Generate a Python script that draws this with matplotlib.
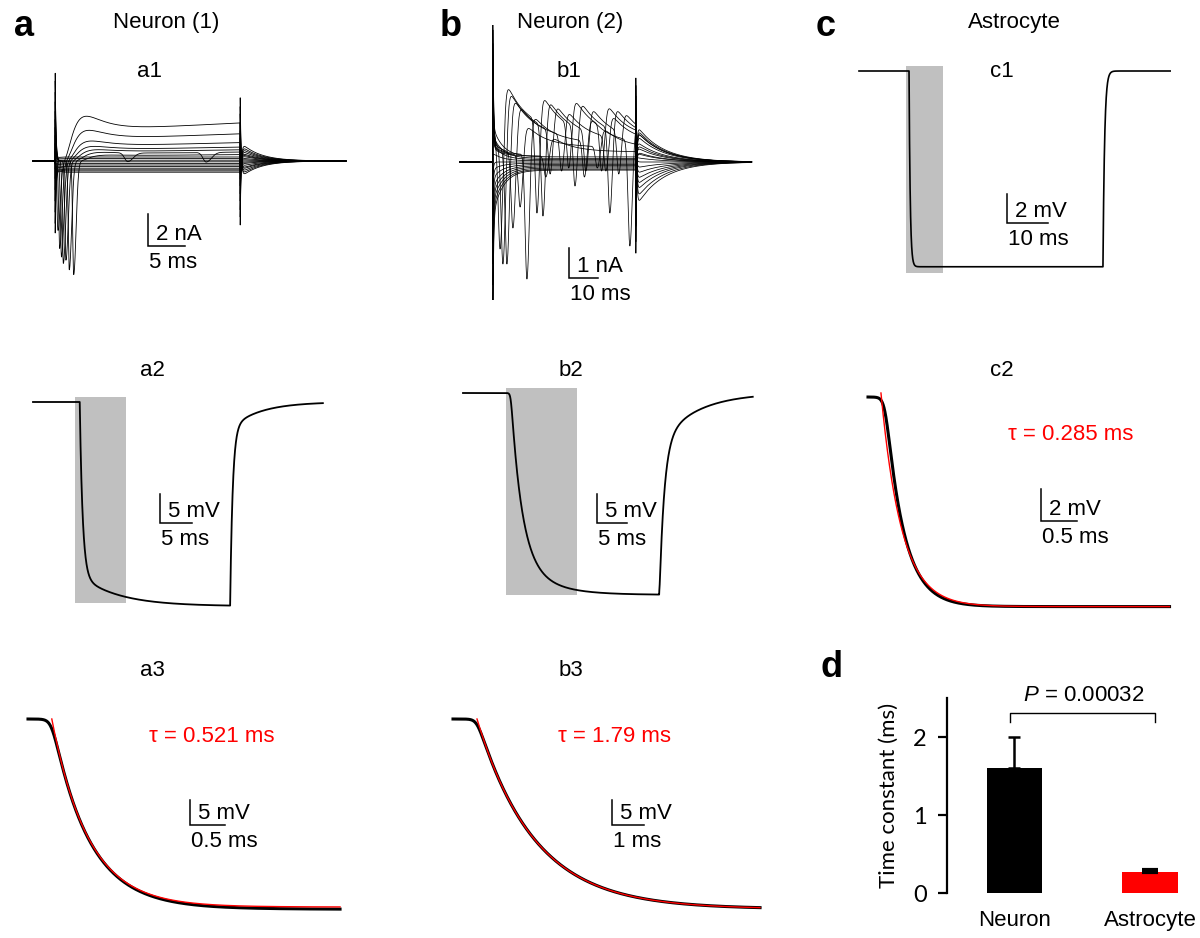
import numpy as np
import matplotlib
matplotlib.use("Agg")
import matplotlib.pyplot as plt
from matplotlib.patches import Rectangle

W, H = 1200, 938
plt.rcParams['font.family'] = ['Liberation Sans', 'DejaVu Sans']
plt.rcParams['mathtext.fontset'] = 'custom'
plt.rcParams['mathtext.it'] = 'Liberation Sans:italic'
plt.rcParams['mathtext.rm'] = 'Liberation Sans'

# ============================ DATA ============================
# --- a1: Neuron (1) voltage-clamp current family (nA, ms)
a1_on_ms, a1_off_ms, a1_end_ms = 3.0, 28.0, 42.3
a1_steady_nA = [2.38, 1.70, 1.15, 0.87, 0.70, 0.56, 0.40,
                0.25, 0.15, 0.05, -0.05, -0.15, -0.25, -0.35, -0.45, -0.55, -0.62, -0.70]
a1_na_delay_ms = [0.35, 0.6, 0.85, 1.1, 1.45, 1.9, 2.5]
a1_na_peak_nA = [-4.6, -5.5, -6.0, -6.4, -6.2, -6.8, -7.1]
a1_on_transient_nA = [5.7, 5.0, 4.3, 3.7, 3.1, 2.6, 2.1, 1.6, 1.1, 0.6, 0.1,
                      -0.5, -1.1, -1.8, -2.5, -3.2, -3.9, -4.5]
a1_off_transient_nA = [-5.2, -4.5, -3.9, -3.2, -2.6, -2.0, -1.5, -1.0, -0.5, 0.0,
                       0.5, 1.1, 1.8, 2.4, 3.0, 3.7, 4.3, 5.0]
a1_tail_nA = [1.2, 1.0, 0.85, 0.7, 0.55, 0.45, 0.35, 0.2, 0.1, 0.0,
              -0.1, -0.2, -0.35, -0.5, -0.6, -0.75, -0.9, -1.05]
a1_late_event_ms = [12.8, 23.4]
a1_late_event_nA = [-0.55, -0.6]

# --- b1: Neuron (2) voltage-clamp current family
b1_on_ms, b1_off_ms, b1_end_ms = 11.5, 61.5, 102.0
b1_spike_ms = [[14.0, 26.9, 38.0, 49.5], [15.0, 29.0, 40.2, 52.4], [16.4, 31.5, 44.0, 55.5],
               [18.5, 35.5, 51.0], [23.4, 43.5, 59.4], [21.0, 48.0], [30.0]]
b1_spike_min_nA = [[-2.9, -1.7, -0.2, -0.3], [-3.4, -1.8, -0.8, -1.7], [-3.4, -0.4, -0.3, -0.4],
                   [-2.2, -0.3, -0.3], [-3.9, -0.5, -2.8], [-1.5, -0.2], [-0.5]]
b1_k_peak_nA = [[2.63, 2.25, 2.15, 1.95], [2.4, 2.1, 2.05, 1.85], [2.17, 1.95, 1.85, 1.7],
                [1.95, 1.75, 1.6], [1.6, 1.5, 1.35], [1.25, 1.15], [0.85]]
b1_pre_spike_nA = [0.35, 0.32, 0.30, 0.28, 0.25, 0.22, 0.20]
b1_steady_nA = [0.17, 0.12, 0.08, 0.04, 0.0, -0.04, -0.08, -0.12, -0.16, -0.20, -0.24, -0.27]
b1_on_transient_nA = [4.3, 4.0, 3.6, 3.2, 2.8, 2.4, 2.0,
                      1.5, 1.0, 0.5, 0.0, -0.5, -1.0, -1.5, -2.0, -2.5, -3.0, -3.5, -4.1]
b1_on_fan_nA = [0.4, 0.4, 0.35, 0.35, 0.3, 0.3, 0.25,
                1.0, 0.75, 0.5, 0.25, 0.0, -0.2, -0.45, -0.7, -0.9, -1.1, -1.3, -1.5]
b1_off_transient_nA = [-4.1, -3.8, -3.4, -3.0, -2.6, -2.2, -1.8,
                       -1.4, -1.0, -0.5, 0.0, 0.5, 1.0, 1.5, 2.0, 2.6, 3.2, 3.8, 4.3]
b1_off_tail_nA = [0.7, 0.5, 0.3, 0.15, 0.0, -0.2, -0.4, -0.6, -0.8, -1.0, -1.25, -1.5]

# --- c1: Astrocyte voltage response (mV)
c1_on_ms, c1_off_ms, c1_end_ms = 12.2, 59.5, 75.9
c1_drop_mV = 13.5
c1_tau_ms, c1_tau_rec_ms = 0.285, 0.4
c1_shade_ms = [11.5, 20.5]
c1_shade_mV = [0.34, -13.9]

# --- a2 / b2: neuron voltage responses (mV)
a2_on_ms, a2_off_ms, a2_end_ms = 7.3, 30.8, 45.3
a2_drop_mV = 35.2
a2_shade_ms = [6.56, 14.5]
a2_shade_mV = [0.86, -34.7]
b2_on_ms, b2_off_ms, b2_end_ms = 7.67, 32.7, 48.3
b2_drop_mV = 34.8
b2_shade_ms = [7.17, 19.0]
b2_shade_mV = [0.86, -34.8]

# --- a3 / b3 / c2: decay phase with single-exponential fits
a3_on_ms, a3_end_ms, a3_drop_mV, a3_tau_ms = 0.34, 4.46, 37.6, 0.521
b3_on_ms, b3_end_ms, b3_drop_mV, b3_tau_ms = 0.75, 9.6, 38.0, 1.79
c2_on_ms, c2_end_ms, c2_drop_mV, c2_tau_ms = 0.18, 4.19, 13.1, 0.285

# --- d: summary bar chart
d_groups = ['Neuron', 'Astrocyte']
d_means = [1.60, 0.27]
d_sem = [0.40, 0.02]
d_colors = ['black', '#ff0000']
d_pvalue = '0.00032'

# ============================ HELPERS ============================
fig = plt.figure(figsize=(W / 100, H / 100), dpi=100)


def ftext(x, y, s, **kw):
    kw.setdefault('fontsize', 16)
    kw.setdefault('ha', 'center')
    kw.setdefault('va', 'baseline')
    fig.text(x / W, 1 - y / H, s, **kw)


def px_axes(box, m):
    L, T, R, B = box
    x0, sx, y0, sy = m
    ax = fig.add_axes([L / W, 1 - B / H, (R - L) / W, (B - T) / H])
    ax.set_xlim((L - x0) / sx, (R - x0) / sx)
    ax.set_ylim((y0 - B) / sy, (y0 - T) / sy)
    ax.axis('off')
    return ax


def scalebar(ax, m, corner, vlen, hlen, vlab, hlab):
    x0, sx, y0, sy = m
    cx = (corner[0] - x0) / sx
    cy = (y0 - corner[1]) / sy
    ax.plot([cx, cx, cx + hlen], [cy + vlen, cy, cy], color='black', lw=1.1,
            solid_joinstyle='miter', clip_on=False)
    ftext(corner[0] + 8, corner[1] - 6, vlab, ha='left')
    ftext(corner[0] + 1, corner[1] + 22, hlab, ha='left')


def decay(t, t0, tau):
    dt = np.clip(t - t0, 0, None)
    return np.where(t >= t0, np.exp(-dt / tau), 0.0)


def rise(t, t0, tau):
    dt = np.clip(t - t0, 0, None)
    return 1 - np.exp(-dt / tau)


def bump(t, tc, w1, w2):
    dt = t - tc
    return np.where(dt < 0, np.exp(-(dt / w1) ** 2), np.exp(-(dt / w2) ** 2))


def soft(dt, w):
    return w * np.logaddexp(0, dt / w)


GRAY = '#c0c0c0'
RED = '#ff0000'

# ============================ PANEL LABELS / TITLES ============================
for lab, x in [('a', 14), ('b', 440), ('c', 816)]:
    ftext(x, 36, lab, fontsize=26, fontweight='bold', ha='left')
ftext(820, 677, 'd', fontsize=26, fontweight='bold', ha='left')
ftext(166, 28, 'Neuron (1)')
ftext(570, 28, 'Neuron (2)')
ftext(1014, 28, 'Astrocyte')
for s, x, y in [('a1', 150, 77), ('b1', 569, 77), ('c1', 1002, 77),
                ('a2', 152, 376), ('b2', 571, 376), ('c2', 1002, 376),
                ('a3', 152, 676), ('b3', 571, 676)]:
    ftext(x, y, s)

# ============================ a1 ============================
m = (33, 7.4, 161, 16.0)
ax = px_axes((20, 40, 360, 300), m)
t = np.arange(0, a1_end_ms, 0.01)
in_step = (t >= a1_on_ms) & (t < a1_off_ms)
dt_on = np.clip(t - a1_on_ms, 0, None)
n_dep = len(a1_na_delay_ms)
for i, L in enumerate(a1_steady_nA):
    I = a1_on_transient_nA[i] * decay(t, a1_on_ms, 0.12)
    if i < n_dep:
        d = a1_na_delay_ms[i]
        act = rise(t, a1_on_ms + d + 0.6, 1.2) ** 3
        shape = 0.752 + 0.0099 * dt_on + 3.5 * np.exp(-dt_on / 2.5)
        step_part = L * act * shape * in_step
        g = bump(t, a1_on_ms + d, 0.2, 0.45)
        step_part = step_part * (1 - g) + a1_na_peak_nA[i] * g
        I = I + step_part
        if i == 5:
            for te, ae in zip(a1_late_event_ms, a1_late_event_nA):
                I = I + ae * bump(t, te, 0.6, 1.0)
    else:
        I = I + L * in_step * rise(t, a1_on_ms, 0.3)
    I = I + a1_off_transient_nA[i] * decay(t, a1_off_ms, 0.12) + a1_tail_nA[i] * decay(t, a1_off_ms, 2.5)
    ax.plot(t, I, color='black', lw=0.6)
scalebar(ax, m, (148, 246), 2, 5, '2 nA', '5 ms')

# ============================ b1 ============================
m = (460, 2.86, 162, 30.0)
ax = px_axes((450, 25, 770, 300), m)
t = np.arange(0, b1_end_ms, 0.02)
in_step = (t >= b1_on_ms) & (t < b1_off_ms)
i_off = np.searchsorted(t, b1_off_ms) - 1
n_sp = len(b1_spike_ms)
for i in range(len(b1_on_transient_nA)):
    I_step = b1_on_fan_nA[i] * decay(t, b1_on_ms, 3.5)
    if i < n_sp:
        env = b1_pre_spike_nA[i] * rise(t, b1_on_ms, 0.3)
        for ts, pk in zip(b1_spike_ms[i], b1_k_peak_nA[i]):
            r = 1 / (1 + np.exp(-(t - ts - 1.6) / 0.45))
            post = pk * (0.4 + 0.6 * np.exp(-np.clip(t - ts - 2.0, 0, None) / 7.0))
            env = env * (1 - r) + post * r
        I_step = I_step + env
        for ts, mn in zip(b1_spike_ms[i], b1_spike_min_nA[i]):
            g = bump(t, ts, 0.9, 1.1)
            I_step = I_step * (1 - g) + mn * g
        tail = I_step[i_off]
    else:
        I_step = I_step + b1_steady_nA[i - n_sp] * rise(t, b1_on_ms, 0.3)
        tail = b1_off_tail_nA[i - n_sp]
    I = I_step * in_step + tail * decay(t, b1_off_ms, 9.0)
    I = I + b1_on_transient_nA[i] * decay(t, b1_on_ms, 0.25) + b1_off_transient_nA[i] * decay(t, b1_off_ms, 0.25)
    ax.plot(t, I, color='black', lw=0.55)
scalebar(ax, m, (569, 278), 1, 10, '1 nA', '10 ms')

# ============================ c1 ============================
m = (859, 4.1, 71, 14.5)
ax = px_axes((840, 50, 1195, 300), m)
ax.add_patch(Rectangle((c1_shade_ms[0], c1_shade_mV[1]), c1_shade_ms[1] - c1_shade_ms[0],
                       c1_shade_mV[0] - c1_shade_mV[1], color=GRAY, lw=0, zorder=0))
t = np.arange(0, c1_end_ms, 0.01)
v_step = -c1_drop_mV * rise(t, c1_on_ms, c1_tau_ms)
v_off = -c1_drop_mV * (1 - np.exp(-(c1_off_ms - c1_on_ms) / c1_tau_ms))
V = np.where(t < c1_off_ms, v_step, v_off * decay(t, c1_off_ms, c1_tau_rec_ms))
ax.plot(t, V, color='black', lw=1.2)
scalebar(ax, m, (1007, 223), 2, 10, '2 mV', '10 ms')

# ============================ a2 ============================
m = (33, 6.4, 402, 5.8)
ax = px_axes((20, 340, 360, 625), m)
ax.add_patch(Rectangle((a2_shade_ms[0], a2_shade_mV[1]), a2_shade_ms[1] - a2_shade_ms[0],
                       a2_shade_mV[0] - a2_shade_mV[1], color=GRAY, lw=0, zorder=0))
t = np.arange(0, a2_end_ms, 0.01)
down = a2_drop_mV * (0.85 * rise(t, a2_on_ms, 0.45) + 0.15 * rise(t, a2_on_ms, 6.0))
d_off = down[np.searchsorted(t, a2_off_ms) - 1]
rec = d_off * (0.87 * decay(t, a2_off_ms, 0.4) + 0.13 * decay(t, a2_off_ms, 4.6))
V = np.where(t < a2_off_ms, -down, -rec)
ax.plot(t, V, color='black', lw=1.3)
scalebar(ax, m, (160, 523), 5, 5, '5 mV', '5 ms')

# ============================ b2 ============================
m = (463, 6.0, 393, 5.8)
ax = px_axes((450, 340, 770, 625), m)
ax.add_patch(Rectangle((b2_shade_ms[0], b2_shade_mV[1]), b2_shade_ms[1] - b2_shade_ms[0],
                       b2_shade_mV[0] - b2_shade_mV[1], color=GRAY, lw=0, zorder=0))
t = np.arange(0, b2_end_ms, 0.01)
te = soft(t - b2_on_ms - 0.3, 0.12)
down = b2_drop_mV * (0.8 * (1 - np.exp(-te / 1.79)) + 0.2 * (1 - np.exp(-te / 5.0)))
d_off = down[np.searchsorted(t, b2_off_ms) - 1]
tr = soft(t - b2_off_ms - 0.05, 0.05)
rec = d_off * (0.75 * np.exp(-tr / 0.8) + 0.25 * np.exp(-tr / 6.0))
V = np.where(t < b2_off_ms, -down, -rec)
ax.plot(t, V, color='black', lw=1.3)
scalebar(ax, m, (597, 523), 5, 5, '5 mV', '5 ms')

# ============================ c2 ============================
m = (868, 72.0, 397, 16.0)
ax = px_axes((850, 340, 1195, 625), m)
t = np.arange(0, c2_end_ms, 0.002)
te = soft(t - c2_on_ms - 0.06, 0.03)
Vb = -c2_drop_mV * (1 - np.exp(-te / 0.25))
ax.plot(t, Vb, color='black', lw=2.2)
tf = t[t >= c2_on_ms]
Vf = 0.25 - (c2_drop_mV + 0.25) * (1 - np.exp(-(tf - c2_on_ms) / c2_tau_ms))
ax.plot(tf, Vf, color=RED, lw=1.0)
ftext(1071, 440, '\u03c4 = 0.285 ms', color=RED)
scalebar(ax, m, (1041, 521), 2, 0.5, '2 mV', '0.5 ms')

# ============================ a3 ============================
m = (28, 70.0, 719, 5.0)
ax = px_axes((15, 640, 360, 930), m)
t = np.arange(0, a3_end_ms, 0.002)
te = soft(t - a3_on_ms, 0.04)
Vb = -(a3_drop_mV * (1 - np.exp(-te / a3_tau_ms)) + 0.5 * (1 - np.exp(-te / 2.0)))
ax.plot(t, Vb, color='black', lw=2.2)
tf = t[t >= a3_on_ms]
ax.plot(tf, -a3_drop_mV * (1 - np.exp(-(tf - a3_on_ms) / a3_tau_ms)), color=RED, lw=1.0)
ftext(212, 742, '\u03c4 = 0.521 ms', color=RED)
scalebar(ax, m, (190, 825), 5, 0.5, '5 mV', '0.5 ms')

# ============================ b3 ============================
m = (453, 32.0, 719, 5.0)
ax = px_axes((440, 640, 780, 930), m)
t = np.arange(0, b3_end_ms, 0.005)
te = soft(t - b3_on_ms, 0.08)
Vb = -b3_drop_mV * (1 - np.exp(-te / b3_tau_ms))
ax.plot(t, Vb, color='black', lw=2.2)
tf = t[t >= b3_on_ms]
ax.plot(tf, -b3_drop_mV * (1 - np.exp(-(tf - b3_on_ms) / b3_tau_ms)), color=RED, lw=1.0)
ftext(614, 742, '\u03c4 = 1.79 ms', color=RED)
scalebar(ax, m, (612, 825), 5, 1, '5 mV', '1 ms')

# ============================ d ============================
L, T, R, B = 947, 698, 1200, 893
axd = fig.add_axes([L / W, 1 - B / H, (R - L) / W, (B - T) / H])
xpos = np.arange(len(d_groups))
axd.bar(xpos, d_means, width=0.406, color=d_colors, edgecolor='none', zorder=2)
axd.errorbar(xpos[0], d_means[0], yerr=[[0], [d_sem[0]]], fmt='none', ecolor='black',
             elinewidth=1.8, capsize=4.5, capthick=1.8, zorder=3)
axd.errorbar(xpos[1], d_means[1], yerr=[[0], [d_sem[1]]], fmt='none', ecolor='black',
             elinewidth=1.8, capsize=5.5, capthick=3.0, zorder=3)
axd.set_xlim(-0.498, 1.369)
axd.set_ylim(0, 2.5)
for s in ['top', 'right', 'bottom']:
    axd.spines[s].set_visible(False)
axd.spines['left'].set_linewidth(1.6)
axd.set_yticks([0, 1, 2])
axd.set_yticklabels(['0', '1', '2'], fontsize=17, family='Lato')
axd.tick_params(axis='y', length=6.5, width=1.6, pad=8)
axd.set_xticks(xpos)
axd.set_xticklabels(d_groups, fontsize=16)
axd.tick_params(axis='x', length=0, pad=12)
axd.set_ylabel('Time constant (ms)', fontsize=16, family='Lato', labelpad=10)
axd.plot([-0.033, -0.033, 1.037, 1.037], [2.19, 2.31, 2.31, 2.19], color='black', lw=1.0, clip_on=False)
axd.text(0.51, 2.40, '$P$ = ' + d_pvalue, ha='center', va='bottom', fontsize=16, clip_on=False)

fig.savefig('out.png', dpi=100)
